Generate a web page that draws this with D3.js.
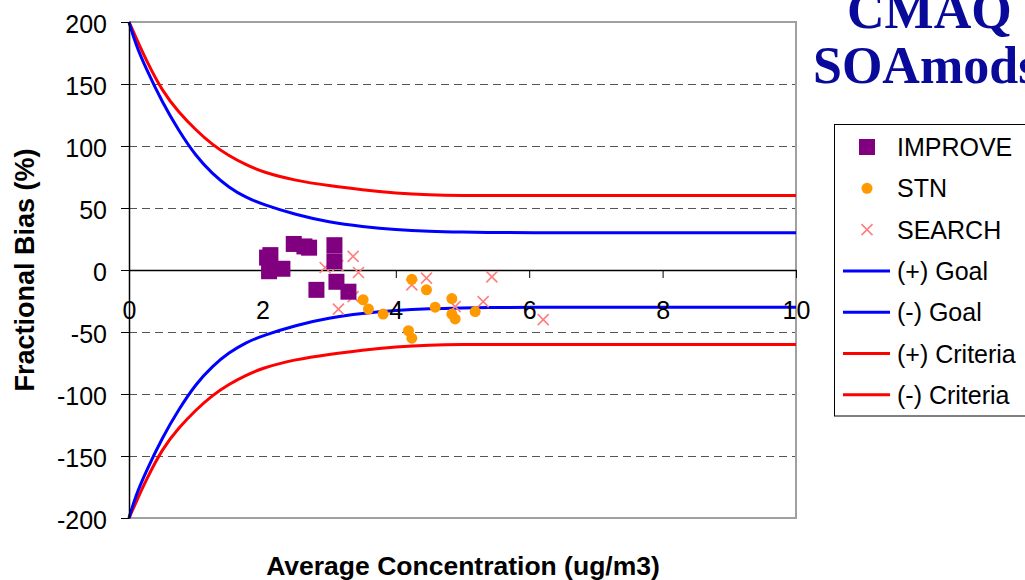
<!DOCTYPE html>
<html>
<head>
<meta charset="utf-8">
<script src="https://cdn.jsdelivr.net/npm/d3@7"></script>
<style>
  html, body { margin: 0; padding: 0; background: #fff; }
  svg { display: block; font-family: Arial, "Liberation Sans", sans-serif; }
</style>
</head>
<body>
<svg id="chart" width="1025" height="580"></svg>
<script>
// Goal / criteria curves (fractional bias, %) against average concentration
const curveX      = [0, 0.1, 0.25, 0.5, 0.75, 1, 1.25, 1.5, 1.75, 2, 2.5, 3, 3.5, 4, 4.5, 5, 5.5, 6, 7, 8, 9, 10];
const goalPlus    = [200, 182, 163, 135, 112, 92, 77.5, 66.5, 58.5, 53, 44.5, 38.5, 35, 32.5, 31.2, 30.6, 30.2, 30, 30, 30, 30, 30];
const goalMinus   = [-200, -182, -163, -135, -112, -92, -77.5, -66.5, -58.5, -53, -44.5, -38.5, -35, -32.5, -31.2, -30.6, -30.2, -30, -30, -30, -30, -30];
const critPlus    = [200, 188, 170, 144, 127, 113, 101, 92, 85, 79, 72, 68, 64.5, 62, 60.5, 60, 60, 60, 60, 60, 60, 60];
const critMinus   = [-200, -188, -170, -144, -127, -113, -101, -92, -85, -79, -72, -68, -64.5, -62, -60.5, -60, -60, -60, -60, -60, -60, -60];

// Monitoring network points: [average concentration, fractional bias]
const improve = [[2.07, 10], [2.12, 12], [2.10, -1], [2.30, 1], [2.47, 21], [2.63, 19], [2.70, 18],
                 [3.08, 20], [3.08, 7], [2.81, -16], [3.11, -9.5], [3.29, -17.5]];
const stn     = [[3.51, -24], [3.59, -31.5], [3.81, -35.5], [4.24, -7.5], [4.46, -16], [4.59, -30],
                 [4.84, -23], [4.84, -35.5], [4.89, -39.5], [5.19, -33.5], [4.19, -49], [4.24, -55]];
const search  = [[2.94, 2], [3.13, 3.5], [3.36, 11], [3.44, -2], [3.36, -21.5], [3.14, -31.5],
                 [4.24, -12], [4.46, -6.5], [5.44, -5.5], [4.89, -29.5], [5.31, -25.5], [6.21, -40]];

const xTicks = [0, 2, 4, 6, 8, 10];
const yTicks = [-200, -150, -100, -50, 0, 50, 100, 150, 200];
const gridVals = [-150, -100, -50, 50, 100, 150];

const legendItems = [
  { label: "IMPROVE", kind: "square" },
  { label: "STN", kind: "circle" },
  { label: "SEARCH", kind: "cross" },
  { label: "(+) Goal", kind: "line", color: "#0000ff" },
  { label: "(-) Goal", kind: "line", color: "#0000ff" },
  { label: "(+) Criteria", kind: "line", color: "#ff0000" },
  { label: "(-) Criteria", kind: "line", color: "#ff0000" }
];

const svg = d3.select("#chart");
const x = d3.scaleLinear().domain([0, 10]).range([129, 796]);
const y = d3.scaleLinear().domain([-200, 200]).range([518, 22]);

// Dashed gridlines
svg.append("g").selectAll("line").data(gridVals).join("line")
  .attr("x1", x(0)).attr("x2", x(10))
  .attr("y1", d => Math.round(y(d)) + 0.5).attr("y2", d => Math.round(y(d)) + 0.5)
  .attr("stroke", "#555").attr("stroke-width", 1).attr("stroke-dasharray", "8,5")
  .attr("shape-rendering", "crispEdges");

// Plot frame (top, right, bottom)
svg.append("path")
  .attr("d", `M${x(0)},${y(200)}H${x(10)}V${y(-200)}H${x(0)}`)
  .attr("fill", "none").attr("stroke", "#a0a0a0").attr("stroke-width", 2);

// Curves
const line = d3.line().x(d => x(d[0])).y(d => y(d[1])).curve(d3.curveBasis);
const curves = [
  { vals: critPlus, color: "#ff0000" },
  { vals: critMinus, color: "#ff0000" },
  { vals: goalPlus, color: "#0000ff" },
  { vals: goalMinus, color: "#0000ff" }
];
svg.append("g").selectAll("path").data(curves).join("path")
  .attr("d", c => line(curveX.map((v, i) => [v, c.vals[i]])))
  .attr("fill", "none").attr("stroke", c => c.color).attr("stroke-width", 3)
  .attr("stroke-linejoin", "round");

const plain = d => String(d);

// Y axis
const yAxis = svg.append("g").attr("transform", `translate(${x(0)},0)`)
  .call(d3.axisLeft(y).tickValues(yTicks).tickFormat(plain).tickSize(8).tickSizeOuter(0));
yAxis.select(".domain").attr("stroke", "#000").attr("stroke-width", 1.5);
yAxis.selectAll(".tick line").attr("stroke", "#000");
yAxis.selectAll(".tick text")
  .attr("x", -22).attr("dy", "0.42em")
  .attr("font-size", 25).attr("font-family", "Arial, 'Liberation Sans', sans-serif").attr("fill", "#000");

// X axis through zero
const xAxis = svg.append("g").attr("transform", `translate(0,${y(0)})`)
  .call(d3.axisBottom(x).tickValues(xTicks).tickFormat(plain).tickSize(8).tickSizeOuter(0));
xAxis.select(".domain").attr("stroke", "#000").attr("stroke-width", 1.5);
xAxis.selectAll(".tick line").attr("stroke", "#000");
xAxis.selectAll(".tick text")
  .attr("y", 49).attr("dy", 0)
  .attr("font-size", 25).attr("font-family", "Arial, 'Liberation Sans', sans-serif").attr("fill", "#000");

// Markers
function crossPath(cx, cy, s) {
  return `M${cx - s},${cy - s}L${cx + s},${cy + s}M${cx - s},${cy + s}L${cx + s},${cy - s}`;
}
svg.append("g").selectAll("path").data(search).join("path")
  .attr("d", d => crossPath(x(d[0]), y(d[1]), 5.5))
  .attr("stroke", "#ff7f7f").attr("stroke-width", 1.6).attr("fill", "none");

svg.append("g").selectAll("rect").data(improve).join("rect")
  .attr("x", d => x(d[0]) - 8).attr("y", d => y(d[1]) - 8)
  .attr("width", 16).attr("height", 16).attr("fill", "#800080");

svg.append("g").selectAll("circle").data(stn).join("circle")
  .attr("cx", d => x(d[0])).attr("cy", d => y(d[1])).attr("r", 5.5)
  .attr("fill", "#ff9900");

// Axis titles
svg.append("text")
  .attr("x", 463).attr("y", 575).attr("text-anchor", "middle")
  .attr("font-size", 26.5).attr("font-weight", "bold").text("Average Concentration (ug/m3)");
svg.append("text")
  .attr("transform", "translate(34,270) rotate(-90)").attr("text-anchor", "middle")
  .attr("font-size", 27).attr("font-weight", "bold").text("Fractional Bias (%)");

// Title
const title = svg.append("g").attr("font-family", "'Liberation Serif', 'Times New Roman', serif")
  .attr("font-weight", "bold").attr("font-size", 52).attr("fill", "#0a0a9a");
title.append("text").attr("x", 847).attr("y", 28).text("CMAQ");
title.append("text").attr("x", 813).attr("y", 83).text("SOAmods");

// Legend
const lg = svg.append("g");
lg.append("rect").attr("x", 834.5).attr("y", 124.5).attr("width", 200).attr("height", 291.5)
  .attr("fill", "#fff").attr("stroke", "#000").attr("stroke-width", 1);
const rowY = i => 147 + i * 41.3;
legendItems.forEach((it, i) => {
  const cy = rowY(i);
  if (it.kind === "square") {
    lg.append("rect").attr("x", 859).attr("y", cy - 8).attr("width", 16).attr("height", 16).attr("fill", "#800080");
  } else if (it.kind === "circle") {
    lg.append("circle").attr("cx", 867).attr("cy", cy).attr("r", 5.5).attr("fill", "#ff9900");
  } else if (it.kind === "cross") {
    lg.append("path").attr("d", crossPath(867, cy, 5.5)).attr("stroke", "#ff7f7f").attr("stroke-width", 1.6);
  } else {
    lg.append("line").attr("x1", 843).attr("x2", 890).attr("y1", cy).attr("y2", cy)
      .attr("stroke", it.color).attr("stroke-width", 3);
  }
  lg.append("text").attr("x", 897).attr("y", cy).attr("dy", "0.36em")
    .attr("font-size", 25).attr("fill", "#000").text(it.label);
});
</script>
</body>
</html>
